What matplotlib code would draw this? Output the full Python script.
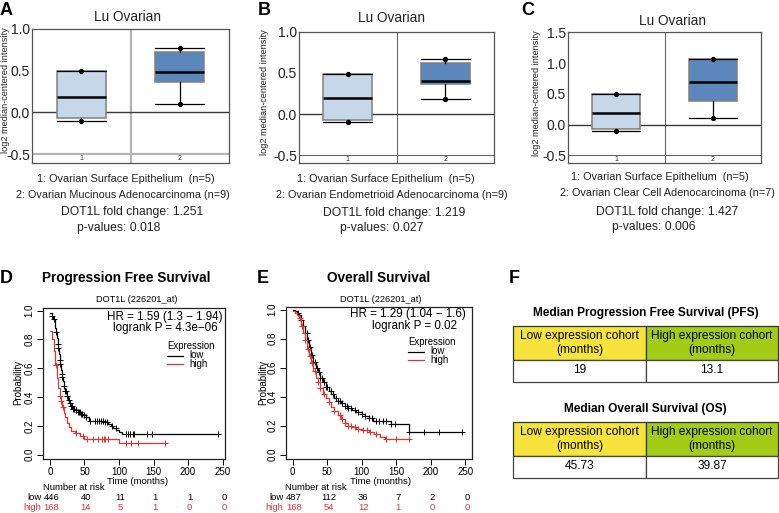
"""
DOT1L expression in ovarian cancer: Oncomine box plots (A-C),
Kaplan-Meier curves (D-E) and median survival tables (F).
"""

import numpy as np
import matplotlib

matplotlib.use("Agg")
import matplotlib.pyplot as plt  # noqa: E402
from matplotlib.patches import Rectangle  # noqa: E402
from matplotlib.transforms import blended_transform_factory  # noqa: E402

plt.rcParams["font.family"] = ["Liberation Sans", "DejaVu Sans"]
plt.rcParams["axes.unicode_minus"] = False

W, H = 779, 513

# ---------------- data: Oncomine box plots (A-C)
box_letters = ["A", "B", "C"]
tumour_names = ["Ovarian Mucinous Adenocarcinoma", "Ovarian Endometrioid Adenocarcinoma",
                "Ovarian Clear Cell Adenocarcinoma"]
tumour_n = [9, 9, 7]
normal_name = "Ovarian Surface Epithelium"
normal_n = 5
fold_change = ["1.251", "1.219", "1.427"]
p_values = ["0.018", "0.027", "0.006"]
# whislo, q1, median, q3, whishi
normal_stats = [[-0.10, -0.07, 0.19, 0.50, 0.50],
                [-0.10, -0.07, 0.19, 0.49, 0.49],
                [-0.10, -0.07, 0.19, 0.49, 0.49]]
tumour_stats = [[0.10, 0.37, 0.48, 0.72, 0.77],
                [0.18, 0.37, 0.40, 0.62, 0.67],
                [0.11, 0.38, 0.70, 1.06, 1.06]]
box_yticks = [[-0.5, 0.0, 0.5, 1.0], [-0.5, 0.0, 0.5, 1.0], [-0.5, 0.0, 0.5, 1.0, 1.5]]

# ---------------- data: Kaplan-Meier (D = PFS, E = OS)
pfs_low_t = [0, 3, 5, 7, 8, 9, 10, 11, 12, 13, 14, 15, 16, 17, 18, 19, 20, 21, 22, 24, 26, 28,
             30, 33, 36, 40, 44, 48, 52, 56, 80, 84, 88, 92, 96, 100, 104]
pfs_low_s = [0.98, 0.96, 0.94, 0.91, 0.88, 0.85, 0.81, 0.77, 0.74, 0.70, 0.66, 0.63, 0.59, 0.56,
             0.54, 0.51, 0.48, 0.46, 0.44, 0.41, 0.38, 0.36, 0.34, 0.32, 0.31, 0.295, 0.285, 0.275,
             0.26, 0.235, 0.225, 0.21, 0.20, 0.185, 0.17, 0.16, 0.145]
pfs_low_end = 243
pfs_low_cens = [3, 6, 9, 11, 12, 14, 15, 17, 18, 20, 22, 23, 25, 27, 29, 31, 32, 34, 35, 37, 38,
                40, 42, 43, 45, 47, 49, 52, 58, 65, 68, 71, 74, 77, 80, 83, 90, 95, 110, 113, 116,
                120, 122, 140, 148, 243]
pfs_high_t = [0, 3, 6, 8, 10, 12, 14, 16, 18, 20, 22, 25, 28, 31, 36, 44, 50, 100]
pfs_high_s = [0.86, 0.80, 0.72, 0.62, 0.53, 0.46, 0.41, 0.37, 0.33, 0.29, 0.26, 0.22, 0.19,
              0.165, 0.15, 0.13, 0.112, 0.078]
pfs_high_end = 167
pfs_high_cens = [9, 14, 16, 19, 38, 48, 53, 62, 70, 76, 78, 80, 84, 110, 118, 128, 167]

os_low_t = [0, 3, 6, 9, 12, 15, 18, 21, 24, 27, 30, 33, 36, 40, 44, 48, 52, 56, 60, 65, 70, 75,
            80, 86, 92, 100, 105, 110, 116, 142, 168]
os_low_s = [0.995, 0.99, 0.98, 0.96, 0.93, 0.89, 0.84, 0.79, 0.74, 0.69, 0.64, 0.60, 0.57, 0.53,
            0.50, 0.465, 0.44, 0.415, 0.39, 0.37, 0.355, 0.335, 0.32, 0.305, 0.295, 0.28, 0.265,
            0.25, 0.235, 0.21, 0.155]
os_low_end = 245
os_low_cens = [8, 12, 15, 18, 20, 22, 25, 28, 30, 32, 35, 38, 40, 42, 45, 48, 50, 55, 58, 62, 65,
               68, 72, 75, 78, 80, 85, 90, 95, 100, 105, 110, 115, 120, 125, 130, 135, 142, 148,
               168, 190, 212, 245]
os_high_t = [0, 3, 6, 9, 12, 15, 18, 21, 24, 27, 30, 33, 36, 40, 44, 48, 52, 56, 60, 65, 70, 75,
             80, 86, 92, 100, 110, 118, 126, 134]
os_high_s = [0.99, 0.98, 0.965, 0.94, 0.89, 0.84, 0.79, 0.73, 0.68, 0.63, 0.58, 0.53, 0.50, 0.46,
             0.42, 0.39, 0.36, 0.33, 0.30, 0.275, 0.245, 0.22, 0.20, 0.19, 0.18, 0.17, 0.155,
             0.14, 0.125, 0.11]
os_high_end = 168
os_high_cens = [10, 14, 18, 22, 25, 28, 32, 36, 40, 45, 52, 60, 68, 72, 76, 80, 85, 90, 95, 102,
                108, 112, 120, 135, 150, 168]

km_titles = ["Progression Free Survival", "Overall Survival"]
km_hr = ["HR = 1.59 (1.3 \u2212 1.94)", "HR = 1.29 (1.04 \u2212 1.6)"]
km_logrank = ["logrank P = 4.3e\u221206", "logrank P = 0.02"]
risk_times = [0, 50, 100, 150, 200, 250]
pfs_risk_low = [446, 40, 11, 1, 1, 0]
pfs_risk_high = [168, 14, 5, 1, 0, 0]
os_risk_low = [487, 112, 36, 7, 2, 0]
os_risk_high = [168, 54, 12, 1, 0, 0]

# ---------------- data: median survival tables (F)
tab_titles = ["Median Progression Free Survival (PFS)", "Median Overall Survival (OS)"]
tab_headers = ["Low expression cohort\n(months)", "High expression cohort\n(months)"]
tab_values = [["19", "13.1"], ["45.73", "39.87"]]

LIGHT_BOX = "#c7d7ea"
DARK_BOX = "#5b87bc"
RED = "#e8302c"
YELLOW = "#f6e33c"
GREEN = "#a2cc16"


def frac(x0, y0, x1, y1):
    """Pixel box (top-left origin) -> figure fraction rect."""
    return [x0 / W, 1 - y1 / H, (x1 - x0) / W, (y1 - y0) / H]


fig = plt.figure(figsize=(W / 100, H / 100), dpi=100)
ov = fig.add_axes([0, 0, 1, 1], zorder=10)
ov.set_xlim(0, W)
ov.set_ylim(H, 0)
ov.axis("off")

# ---------------- A-C
box_rects = [(32, 29, 229, 163), (299, 31.7, 494, 163.3), (568, 32.3, 761, 163.3)]
box_ylims = [(-0.605, 1.0), (-0.597, 1.0), (-0.63, 1.5)]
letter_xy = [(0, 2), (258, 2), (521, 2)]
title_xy = [(128, 17), (392, 18), (673, 21)]
ylab_xy = [(5.5, 90), (265, 92), (537, 93)]
text_x = [(126, 123, 132, 119), (386, 392, 394, 382), (660, 667, 667, 654)]
text_y = [(179, 195, 212, 228), (179, 195, 213, 228), (177, 193, 212, 227)]
div_style = [("#b5b5b5", 1.6), ("#666666", 0.8), ("#666666", 0.8)]

for i in range(3):
    ax = fig.add_axes(frac(*box_rects[i]))
    stats = []
    for row in (normal_stats[i], tumour_stats[i]):
        lo, q1, med, q3, hi = row
        stats.append(dict(whislo=lo, q1=q1, med=med, q3=q3, whishi=hi, fliers=[]))
    bp = ax.bxp(stats, positions=[1, 2], widths=0.5, capwidths=0.5, patch_artist=True,
                showfliers=False,
                boxprops=dict(edgecolor="#808080", linewidth=1.1),
                medianprops=dict(color="black", linewidth=1.8),
                whiskerprops=dict(color="black", linewidth=0.9),
                capprops=dict(color="black", linewidth=0.9), zorder=3)
    for patch, col in zip(bp["boxes"], [LIGHT_BOX, DARK_BOX]):
        patch.set_facecolor(col)
    for pos, row in zip([1, 2], (normal_stats[i], tumour_stats[i])):
        ax.plot([pos, pos], [row[0], row[4]], "o", color="black", ms=2.8, zorder=4)

    ax.set_xlim(0.5, 2.5)
    ax.set_ylim(*box_ylims[i])
    ax.axhline(0, color="#3a3a3a", lw=1.0, zorder=2)
    ax.axhline(-0.5, color=div_style[i][0], lw=div_style[i][1], zorder=1)
    ax.axvline(1.5, color=div_style[i][0], lw=div_style[i][1], zorder=1)
    ax.set_yticks(box_yticks[i])
    ax.set_yticklabels([f"{v:.1f}" for v in box_yticks[i]])
    ax.tick_params(axis="y", length=0, pad=1.5, labelsize=10, labelcolor="#222222")
    ax.set_xticks([])
    for sp in ax.spines.values():
        sp.set_color("#555555")
        sp.set_linewidth(0.9)
    ylo = box_ylims[i][0]
    for pos in (1, 2):
        ax.text(pos, (ylo - 0.5) / 2, str(pos), ha="center", va="center", fontsize=5,
                color="#333333")

    ov.text(*letter_xy[i], box_letters[i], fontsize=13, fontweight="bold", ha="left", va="top")
    ov.text(*title_xy[i], "Lu Ovarian", fontsize=9.8, ha="center", va="center", color="#222222")
    ov.text(*ylab_xy[i], "log2 median-centered intensity", fontsize=6.6, rotation=90,
            ha="center", va="center", color="#222222")
    lines = [f"1: {normal_name}  (n={normal_n})",
             f"2: {tumour_names[i]} (n={tumour_n[i]})",
             f"DOT1L fold change: {fold_change[i]}",
             f"p-values: {p_values[i]}"]
    sizes = [7.8, 7.8, 8.7, 8.7]
    for txt, x, y, fs in zip(lines, text_x[i], text_y[i], sizes):
        ov.text(x, y, txt, fontsize=fs, ha="center", va="center", color="#222222")

# ---------------- D-E
km_rects = [(42.7, 307.7, 225, 459), (286, 306.7, 471.7, 459)]
km_xlims = [(-10.5, 253.5), (-9.7, 259)]
km_data = [
    [(pfs_low_t, pfs_low_s, pfs_low_end, pfs_low_cens, "black"),
     (pfs_high_t, pfs_high_s, pfs_high_end, pfs_high_cens, RED)],
    [(os_low_t, os_low_s, os_low_end, os_low_cens, "black"),
     (os_high_t, os_high_s, os_high_end, os_high_cens, RED)],
]
risks = [(pfs_risk_low, pfs_risk_high), (os_risk_low, os_risk_high)]
km_letters = ["D", "E"]
km_letter_x = [0, 257]
km_title_x = [126, 379]
probe_x = [137, 381]
hr_xy = [(223, 317), (466, 314)]
lr_xy = [(218, 328.5), (457, 325.7)]
leg_x = [167, 408]
leg_y = [346, 342]
prob_x = [18, 263]
time_x = [138, 381]
nar_x = [43.3, 285.5]

for k in range(2):
    ax = fig.add_axes(frac(*km_rects[k]))
    for t, s, t_end, cens, col in km_data[k]:
        t = np.asarray(t, float)
        s = np.asarray(s, float)
        ax.step(np.r_[t, t_end], np.r_[s, s[-1]], where="post", color=col, lw=0.9)
        idx = np.searchsorted(t, cens, side="right") - 1
        ax.plot(cens, s[idx], "+", color=col, ms=4, mew=0.7)
    ax.set_xlim(*km_xlims[k])
    ax.set_ylim(-0.03, 1.02)
    ax.set_xticks(risk_times)
    ax.set_yticks(np.arange(0, 1.01, 0.2))
    ax.set_yticklabels([f"{v:.1f}" for v in np.arange(0, 1.01, 0.2)])
    ax.tick_params(direction="out", length=4, width=0.7, labelsize=7, pad=2)
    for lab in ax.get_yticklabels():
        lab.set_rotation(90)
        lab.set_va("center")
    for sp in ax.spines.values():
        sp.set_linewidth(0.9)
        sp.set_color("#222222")

    ov.text(km_letter_x[k], 270, km_letters[k], fontsize=13, fontweight="bold", ha="left",
            va="top")
    ov.text(km_title_x[k], 278, km_titles[k], fontsize=9.8, fontweight="bold", ha="center",
            va="center")
    ov.text(probe_x[k], 300, "DOT1L (226201_at)", fontsize=6.6, ha="center", va="center")
    ov.text(*hr_xy[k], km_hr[k], fontsize=8.4, ha="right", va="center")
    ov.text(*lr_xy[k], km_logrank[k], fontsize=8.4, ha="right", va="center")
    lx, ly = leg_x[k], leg_y[k]
    ov.text(lx, ly, "Expression", fontsize=6.9, ha="left", va="center")
    for j, (lab, col) in enumerate([("low", "black"), ("high", RED)]):
        yy = ly + 9.5 + j * 8.5
        ov.plot([lx, lx + 16], [yy, yy], color=col, lw=0.9)
        ov.text(lx + 22, yy, lab, fontsize=6.9, ha="left", va="center")
    ov.text(prob_x[k], 382, "Probability", fontsize=7, rotation=90, ha="center", va="center")
    ov.text(time_x[k], 481.5, "Time (months)", fontsize=6.8, ha="center", va="center")
    ov.text(nar_x[k], 487.5, "Number at risk", fontsize=6.8, ha="left", va="center")

    tr = blended_transform_factory(ax.transData, ov.transData)
    for row, (vals, lab, col) in enumerate([(risks[k][0], "low", "black"),
                                            (risks[k][1], "high", RED)]):
        yy = 498 + row * 9.5
        ov.text(nar_x[k] - 2, yy, lab, fontsize=6.8, ha="right", va="center", color=col)
        for tt, v in zip(risk_times, vals):
            ov.text(tt + 2, yy, str(v), fontsize=6.8, ha="center", va="center", color=col,
                    transform=tr)

# ---------------- F
ov.text(509, 270, "F", fontsize=13, fontweight="bold", ha="left", va="top")
x0, xm, x1 = 513, 646, 778
tab_y = [(326, 360, 382), (421.7, 456, 478)]
title_y = [313, 409]
for j in range(2):
    ya, yb, yc = tab_y[j]
    ov.text((x0 + x1) / 2, title_y[j], tab_titles[j], fontsize=8.6, fontweight="bold",
            ha="center", va="center")
    cells = [(x0, xm, YELLOW), (xm, x1, GREEN)]
    for c, (a, b, col) in enumerate(cells):
        ov.add_patch(Rectangle((a, ya), b - a, yb - ya, facecolor=col, edgecolor="#333333",
                               lw=0.9))
        ov.add_patch(Rectangle((a, yb), b - a, yc - yb, facecolor="white", edgecolor="#444444",
                               lw=0.9))
        ov.text((a + b) / 2, (ya + yb) / 2, tab_headers[c], fontsize=8.6, ha="center",
                va="center", linespacing=1.2)
        ov.text((a + b) / 2, (yb + yc) / 2 - 1, tab_values[j][c], fontsize=8.6, ha="center",
                va="center")

fig.savefig("out.png", dpi=100)
plt.close(fig)
